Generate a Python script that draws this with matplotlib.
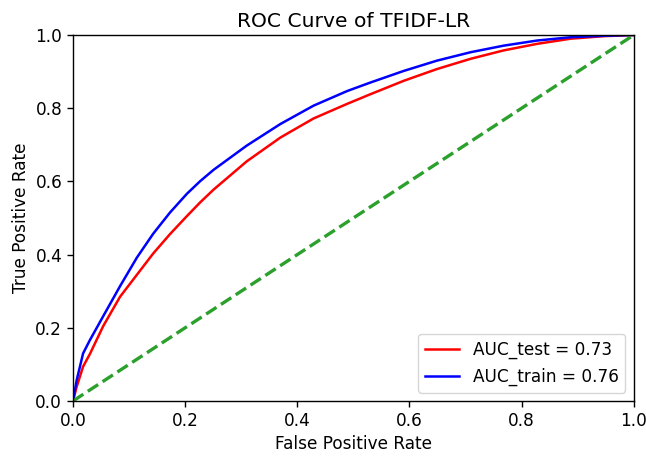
import matplotlib
matplotlib.use("Agg")
import matplotlib.pyplot as plt

# ROC points
fpr_test = [0.0, 0.0066, 0.018, 0.030, 0.054, 0.084, 0.114, 0.143, 0.173, 0.203, 0.227,
            0.251, 0.310, 0.370, 0.429, 0.489, 0.530, 0.590, 0.649, 0.709, 0.768, 0.828,
            0.8875, 0.947, 1.0]
tpr_test = [0.0, 0.039, 0.094, 0.128, 0.205, 0.285, 0.345, 0.403, 0.456, 0.505, 0.543,
            0.578, 0.655, 0.720, 0.772, 0.812, 0.838, 0.875, 0.907, 0.935, 0.958, 0.976,
            0.990, 0.997, 1.0]
fpr_train = [0.0, 0.0066, 0.018, 0.030, 0.054, 0.084, 0.114, 0.143, 0.173, 0.203, 0.227,
             0.251, 0.310, 0.370, 0.429, 0.489, 0.530, 0.590, 0.649, 0.709, 0.768, 0.828,
             0.8875, 0.947, 1.0]
tpr_train = [0.0, 0.057, 0.130, 0.166, 0.232, 0.314, 0.392, 0.457, 0.515, 0.566, 0.601,
             0.632, 0.698, 0.757, 0.807, 0.847, 0.870, 0.902, 0.930, 0.953, 0.971, 0.985,
             0.994, 0.998, 1.0]
auc_test = 0.73
auc_train = 0.76

fig = plt.figure(figsize=(6.46, 4.58), dpi=100)
ax = fig.add_axes([0.113, 0.1245, 0.868, 0.799])

ax.plot(fpr_test, tpr_test, color='r', lw=1.8, label=f'AUC_test = {auc_test:.2f}')
ax.plot(fpr_train, tpr_train, color='b', lw=1.8, label=f'AUC_train = {auc_train:.2f}')
ax.plot([0, 1], [0, 1], color='#2ca02c', lw=2.4, linestyle='--')

ax.set_xlim(0, 1)
ax.set_ylim(0, 1)
ax.set_xlabel('False Positive Rate', fontsize=12.2)
ax.set_ylabel('True Positive Rate', fontsize=12.2)
ax.set_title('ROC Curve of TFIDF-LR', fontsize=14.6)
ax.tick_params(labelsize=12.2, length=4.3, width=1)
for s in ax.spines.values():
    s.set_linewidth(1)
ax.legend(loc='lower right', fontsize=12.2)

fig.savefig('out.png', dpi=100)
